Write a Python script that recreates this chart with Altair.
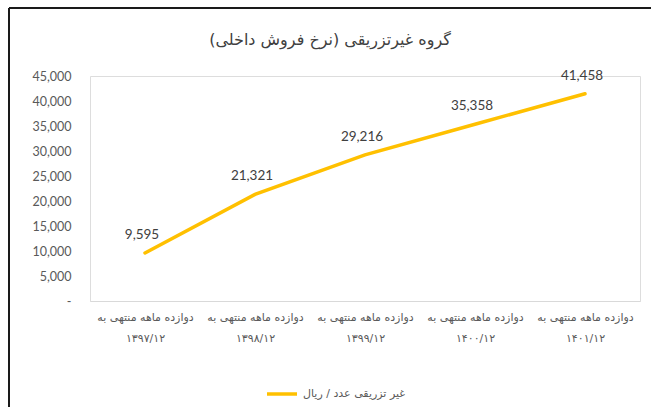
import altair as alt
import pandas as pd

categories = [
    "دوازده ماهه منتهی به\n۱۳۹۷/۱۲",
    "دوازده ماهه منتهی به\n۱۳۹۸/۱۲",
    "دوازده ماهه منتهی به\n۱۳۹۹/۱۲",
    "دوازده ماهه منتهی به\n۱۴۰۰/۱۲",
    "دوازده ماهه منتهی به\n۱۴۰۱/۱۲",
]
values = [9595, 21321, 29216, 35358, 41458]
series_name = "غیر تزریقی عدد / ریال"
title_text = "گروه غیرتزریقی (نرخ فروش داخلی)"

df = pd.DataFrame({"cat": categories, "val": values, "series": series_name})

x = alt.X("cat:N", sort=None, title=None,
          scale=alt.Scale(paddingInner=0, paddingOuter=0),
          axis=alt.Axis(labelExpr="split(datum.label, '\\n')", labelAngle=0,
                        labelFont="DejaVu Sans", labelFontSize=11, labelColor="#595959",
                        labelPadding=10, labelLineHeight=21, ticks=False,
                        domainColor="#d9d9d9", domainWidth=1))
y = alt.Y("val:Q", title=None,
          scale=alt.Scale(domain=[0, 45000], nice=False),
          axis=alt.Axis(values=list(range(0, 45001, 5000)),
                        labelExpr="datum.value == 0 ? '-' : format(datum.value, ',')",
                        labelFont="Lato", labelFontSize=12.5, labelColor="#595959",
                        labelPadding=19, ticks=False, domain=False, grid=False))

line = alt.Chart(df).mark_line(color="#FFC000", strokeWidth=3.5, strokeCap="round").encode(
    x=x, y=y,
    color=alt.Color("series:N", scale=alt.Scale(range=["#FFC000"]),
                    legend=alt.Legend(title=None, orient="none", legendX=175, legendY=301,
                                      symbolType="stroke", symbolSize=900, symbolStrokeWidth=3.5,
                                      labelFont="DejaVu Sans", labelFontSize=11,
                                      labelColor="#595959", symbolOffset=0)),
)

labels = alt.Chart(df).mark_text(font="Lato", fontSize=13.5, color="#404040", dy=-18, dx=-3).encode(
    x=x, y=y, text=alt.Text("val:Q", format=",")
)

title_df = pd.DataFrame({"t": [title_text]})
title = alt.Chart(title_df).mark_text(font="DejaVu Sans", fontSize=16, color="#404040",
                                      align="center", baseline="middle").encode(
    x=alt.value(240), y=alt.value(-36), text="t:N"
)

frame = alt.Chart(title_df).mark_rule(color="#1a1a1a", strokeWidth=2).encode(
    x=alt.value(-81), y=alt.value(-68), y2=alt.value(340)
)
frame_top = alt.Chart(title_df).mark_rule(color="#1a1a1a", strokeWidth=2).encode(
    x=alt.value(-81), x2=alt.value(570), y=alt.value(-68)
)

chart = alt.layer(line, labels, title, frame, frame_top).properties(
    width=550, height=225,
    autosize=alt.AutoSizeParams(type="none"),
    padding={"left": 90, "top": 76, "right": 11, "bottom": 106},
).configure_view(stroke=None).configure(background="white")

chart.save("out.html", embed_options={"renderer": "svg", "actions": False})
